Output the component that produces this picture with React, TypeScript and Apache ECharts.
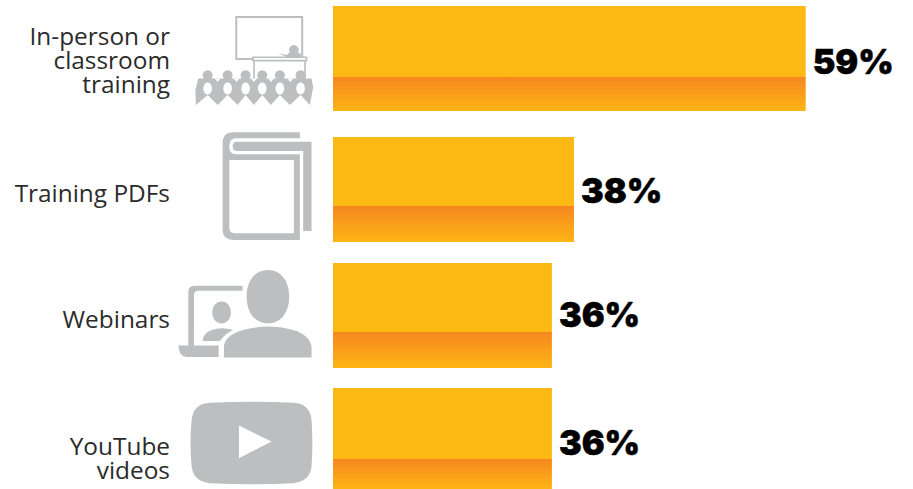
import React, { useEffect, useRef } from "react";
import * as echarts from "echarts";

// Survey results: how people prefer to receive training
const categories = ["In-person or\nclassroom\ntraining", "Training PDFs", "Webinars", "YouTube\nvideos"];
const shares = [59, 38, 36, 36];

// Row geometry, one small grid per row because the rows are not evenly spaced
const rows = [
  { top: 6, height: 105, band: 34, labelY: 59, valueDy: 3 },
  { top: 137, height: 105, band: 36, labelY: 192, valueDy: 1 },
  { top: 263, height: 105, band: 36, labelY: 318, valueDy: -1 },
  { top: 388, height: 101, band: 30, labelY: 457, valueDy: 4 },
];

const GREY = "#BCBEC0";
const WHITE = "#FFFFFF";
const AXIS_MIN = 16.16;
const AXIS_MAX = 68;

// Icon outlines, drawn on a 3x working grid and scaled down when placed
echarts.graphic.registerShape(
  "iconBook",
  echarts.graphic.extendPath(
    "M390 22 L190 22 Q158 22 158 55 L158 315 Q158 345 190 345 L390 345 L390 88 L195 88 Q178 85 178 65 Q178 42 195 40 L390 40 Z " +
      "M178 105 L372 105 L372 325 L195 325 Q178 325 178 308 Z " +
      "M200 50 L425 50 L425 318 L400 318 L400 78 L200 78 Q188 78 188 64 Q188 50 200 50 Z",
    {}
  )
);
echarts.graphic.registerShape(
  "iconWebinar",
  echarts.graphic.extendPath(
    "M294 45 C335 45 358 80 358 125 C358 170 335 205 294 205 C253 205 230 170 230 125 C230 80 253 45 294 45 Z " +
      "M162 308 L162 275 Q165 240 220 225 Q295 205 370 225 Q420 240 425 275 L425 308 Z " +
      "M155 140 C172 140 183 155 183 173 C183 191 172 206 155 206 C138 206 127 191 127 173 C127 155 138 140 155 140 Z " +
      "M98 258 Q98 235 125 225 Q155 215 190 225 Q165 235 150 258 Z " +
      "M55 272 L55 110 Q55 92 75 92 L218 92 L218 107 L85 107 Q72 107 72 120 L72 272 L146 272 L146 306 L50 306 Q27 306 25 272 Z",
    {}
  )
);
echarts.graphic.registerShape(
  "iconPlayer",
  echarts.graphic.extendPath(
    "M120 68 Q245 62 370 68 Q420 70 425 120 Q430 190 425 260 Q420 305 370 310 Q245 316 120 310 Q70 305 65 260 Q58 190 65 120 Q70 70 120 68 Z",
    {}
  )
);
echarts.graphic.registerShape(
  "iconPlayArrow",
  echarts.graphic.extendPath("M207 137 L305 185 L207 235 Z", {})
);
echarts.graphic.registerShape(
  "iconAudience",
  echarts.graphic.extendPath(
    "M85 236 L425 236 L430 262 L420 315 L392 285 L360 315 L330 285 L303 315 L277 285 L252 315 L227 285 L203 315 L173 285 L143 315 L113 285 L78 315 L76 270 Z",
    {}
  )
);
echarts.graphic.registerShape(
  "iconPresenter",
  echarts.graphic.extendPath(
    "M350 172 Q352 160 360 157 A14 14 0 1 1 384 157 Q394 160 396 172 Z M325 160 L355 166 L352 172 Z",
    {}
  )
);

const third = { scaleX: 1 / 3, scaleY: 1 / 3 };
const audienceX = [113, 173, 227, 277, 330, 392];

// Notches that separate the shoulders of neighbouring people
const shoulderNotches = audienceX.slice(0, -1).map((x, i) => {
  const mid = (x + audienceX[i + 1]) / 2;
  return {
    type: "polygon",
    shape: { points: [[mid - 9, 236], [mid + 9, 236], [mid, 246]] },
    style: { fill: WHITE },
  };
});

// Classroom scene, in the same 3x working grid
const classroom = {
  type: "group",
  x: 170,
  y: 0,
  ...third,
  children: [
    { type: "rect", shape: { x: 199, y: 51, width: 198, height: 126 }, style: { fill: "none", stroke: GREY, lineWidth: 6 } },
    { type: "iconPresenter", style: { fill: GREY } },
    { type: "rect", shape: { x: 249, y: 172, width: 161, height: 10 }, style: { fill: WHITE, stroke: GREY, lineWidth: 5 } },
    { type: "rect", shape: { x: 250, y: 184, width: 5, height: 55 }, style: { fill: GREY } },
    { type: "rect", shape: { x: 403, y: 184, width: 5, height: 55 }, style: { fill: GREY } },
    ...audienceX.map((x) => ({ type: "circle", shape: { cx: x, cy: 226, r: 15 }, style: { fill: GREY } })),
    { type: "iconAudience", style: { fill: GREY } },
    ...shoulderNotches,
    ...audienceX.map((x) => ({ type: "ellipse", shape: { cx: x, cy: 266, rx: 13, ry: 18 }, style: { fill: WHITE } })),
  ],
};

const icons = [
  classroom,
  { type: "iconBook", x: 170, y: 125, ...third, style: { fill: GREY } },
  { type: "iconWebinar", x: 170, y: 255, ...third, style: { fill: GREY } },
  { type: "iconPlayer", x: 170, y: 380, ...third, style: { fill: GREY } },
  { type: "iconPlayArrow", x: 170, y: 380, ...third, style: { fill: WHITE } },
];

// Row captions, right-aligned against the icon column
const captions = rows.map((r, i) => ({
  type: "text",
  x: 170,
  y: r.labelY,
  style: {
    text: categories[i],
    fill: "#2B2B2B",
    fontFamily: "Open Sans",
    fontSize: 24.4,
    lineHeight: 24,
    textAlign: "right",
    textVerticalAlign: "middle",
  },
}));

function barFill(height: number, band: number) {
  const start = 1 - band / height;
  return new echarts.graphic.LinearGradient(0, 0, 0, 1, [
    { offset: 0, color: "#FDB913" },
    { offset: start, color: "#FDB913" },
    { offset: start, color: "#F6871F" },
    { offset: 1, color: "#FDB515" },
  ]);
}

export default function App() {
  const ref = useRef<HTMLDivElement>(null);

  useEffect(() => {
    document.body.style.margin = "0";
    const chart = echarts.init(ref.current!, undefined, { renderer: "svg" });
    chart.setOption({
      animation: false,
      backgroundColor: "#FFFFFF",
      grid: rows.map((r) => ({ left: 333, right: 8, top: r.top, height: r.height })),
      xAxis: rows.map((_, i) => ({ type: "value", gridIndex: i, min: AXIS_MIN, max: AXIS_MAX, show: false })),
      yAxis: rows.map((_, i) => ({ type: "category", gridIndex: i, data: [categories[i]], show: false })),
      series: rows.map((r, i) => ({
        type: "bar",
        xAxisIndex: i,
        yAxisIndex: i,
        barWidth: "100%",
        data: [shares[i]],
        itemStyle: { color: barFill(r.height, r.band) },
        label: {
          show: true,
          position: "right",
          distance: 7,
          offset: [0, r.valueDy],
          formatter: "{c}%",
          color: "#000000",
          fontFamily: "Inter",
          fontWeight: 900,
          fontSize: 34,
          textBorderColor: "#000000",
          textBorderWidth: 0.5,
        },
      })),
      graphic: [...icons, ...captions],
    });
    return () => chart.dispose();
  }, []);

  return <div ref={ref} style={{ position: "absolute", left: 0, top: 0, width: 913, height: 489 }} />;
}
